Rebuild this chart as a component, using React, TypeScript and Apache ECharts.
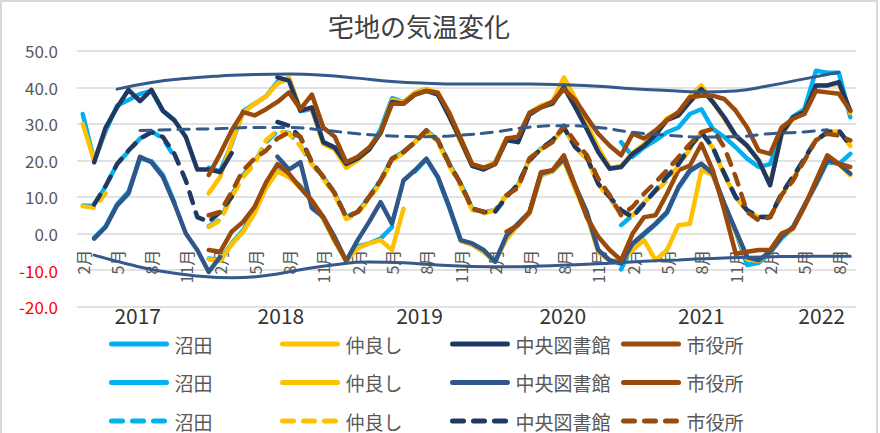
import { useEffect, useRef } from "react";
import * as echarts from "echarts";

const n = null;
const FONT = "'Noto Sans CJK JP', 'Noto Sans', sans-serif";

// Categories: monthly, Feb 2017 .. Sep 2022
const START_YEAR = 2017;
const START_MONTH = 2;
const MONTH_COUNT = 68;
const CATEGORIES: string[] = [];
for (let k = 0; k < MONTH_COUNT; k++) {
  const m = START_MONTH - 1 + k;
  CATEGORIES.push(`${START_YEAR + Math.floor(m / 12)}-${(m % 12) + 1}`);
}

const YEAR_LABELS = ["2017", "2018", "2019", "2020", "2021", "2022"];
const YEAR_LABEL_POS = [4.8, 17.3, 29.4, 41.9, 54.0, 64.5];

const LOCATIONS = ["沼田", "仲良し", "中央図書館", "市役所"];

// ---- maximum (rows: 2017 Feb-Dec, 2018, 2019, 2020, 2021, 2022 Jan-Sep)
const NUMATA_MAX = [
  32.7, 20, 28, 35, 36.5, 38.2, 39, 33.5, 31, n, n,
  18, 17, 24.5, 33.5, 35.5, 37.5, 41.5, 42.5, 33.5, 34, 25, 23.5,
  18.5, 20.5, 23, 28.5, 37, 36, 38.5, 39.5, 38.3, 32, 25.5, 18.5,
  17.8, 19.5, 26, 25, 33, 34.8, 36, 41.5, 36, 29.5, n, n,
  25, 21, 23.6, 25.5, 27.7, 29, 32.7, 34, 28.6, 26.4, 23.6, 20.5,
  18.2, 19, 27.5, 32, 34, 44.5, 44, 44, 31.8,
];
const NAKAYOSHI_MAX = [
  30, 20, 28.5, n, n, n, n, n, n, n, n,
  11, 15.5, 25, 33, 35.5, 37.5, 41, 42.5, 34, 34, 24.5, 23,
  18, 20, 23, 27.5, 36.5, 36, 38.5, 39.5, 38.5, 32, 25, 18.5,
  18, 19.5, 26, 25.5, 33, 35, 36, 42.7, 37, 30, 23.5, 18,
  18.5, 22, 24.5, 27.5, 31.5, 33, 37.5, 40.5, 36, 31.5, 26.5, 24,
  20, 13.5, 27, 31.5, 33, 40.5, 40.5, 41, 33,
];
const CHUO_MAX = [
  n, 19.5, 29, 34.5, 39.3, 36.2, 39.3, 33.6, 31, 26.4, 17.5,
  17.5, 16.8, 22, n, n, n, 42.7, 41.8, 33.6, 34.5, 25, 23.5,
  19, 20.5, 23, 27.5, 36, 35.5, 38, 39, 38, 32, 25.5, 18.5,
  17.5, 19, 25.5, 25, 32.5, 34.5, 35.5, 40, 34.5, 28.6, 22.3, 17.7,
  18.2, 21.8, 24, 27, 31, 32.3, 36, 39.5, 36, 31.8, 26.8, 24,
  20, 13.2, 27.3, 31.8, 33.2, 40.5, 40.5, 41.4, 33.6,
];
const SHIYAKUSHO_MAX = [
  n, n, n, n, n, n, n, n, n, n, n,
  16, 21.8, 28.2, 33.2, 32.3, 34, 36, 38.6, 34, 38, 29, 26.5,
  19.5, 21, 23.5, 27.5, 35.5, 35.5, 38, 39, 38.5, 33, 26, 19,
  18, 19, 26, 26.5, 33, 34.5, 36, 39.5, 36.5, 31.8, 27.3, 24,
  21.4, 27.3, 26, 28.2, 31, 33.2, 37.3, 37.7, 37.7, 36.8, 33.6, 29,
  22.7, 21.8, 29, 31.4, 32.7, 39, 38.6, 38.2, 33.6,
];

// ---- minimum
const NUMATA_MIN = [
  n, -1.2, 2, 8, 11.5, 20.5, 19.8, 16, 8.5, n, n,
  -6.8, -7.3, -2.7, 0.9, 6, 12.7, 17.3, 15.5, 13, 9, 4, -2,
  -7.5, -3.5, -2.7, -1.4, 1.8, n, 17, 20.3, 15.3, 7, -2, -3,
  -5, -7.7, -1, 2.5, 5.5, 16, 17, 20.3, 12.5, 5.5, n, n,
  -9.8, -3, -0.3, 2.5, 5.6, 12.5, 17, 19, 16, 8, 0.5, -8.6,
  -8, -5.3, -1.3, 1.5, 7.5, 13.3, 19.7, 19, 21.8,
];
const NAKAYOSHI_MIN = [
  n, n, n, n, n, n, n, n, n, n, n,
  -7, -7.5, -3, 0.5, 5.5, 12.5, 17, 15.5, 12.5, 9, 4, -2,
  -7.5, -4, -2.7, -1.8, -4.5, 6.8, n, n, n, n, -2, -3,
  -5, -7.5, -1.5, 2.3, 5.5, 16, 17, 20, 12, 5, -5, -7.5,
  -7.3, -4.5, -1.8, -7.3, -4.5, 2.3, 2.7, 17.3, 16, 8, 0.5, -7,
  -7.5, -5, -1, 1.5, 7.5, 13.5, 20, 19, 16,
];
const CHUO_MIN = [
  n, -1.4, 1.8, 7.7, 11, 21, 19.5, 15.5, 8.2, 0, -4.5,
  -10.5, -6.4, n, n, n, n, 21, 17.5, 19.5, 7, 4.5, -1,
  -7.5, -1.8, 3.2, 8.6, 2.7, 14.5, 17.3, 20.5, 15.5, 7.3, -1.8, -2.7,
  -4.5, -7.7, -0.5, 2.7, 5.9, 16.4, 17.3, 20.5, 13, 5.9, -4.5, -7.3,
  -8.2, -2.7, 0, 2.7, 5.9, 12.7, 17.3, 19.1, 16.4, 8.2, 0.9, -6.4,
  -7.3, -5, -0.9, 1.8, 7.7, 13.6, 20, 19.1, 16.4,
];
const SHIYAKUSHO_MIN = [
  n, n, n, n, n, n, n, n, n, n, n,
  -4.5, -5, 0.5, 3.2, 7.3, 14, 19, 16.4, 12.5, 9, 4.5, -1.8,
  -7.3, n, n, n, n, n, n, n, n, n, n, n,
  n, n, 0.5, 2.3, 5.9, 16.8, 17.3, 21.4, 13, 4.5, -0.9, -4.5,
  -7.3, 0, 4.5, 5, 10.9, 17.3, 18.6, 24.5, 17.3, 6.4, -5.5, -5,
  -4.5, -4.5, 0, 1.4, 7.3, 14.5, 21.4, 19.1, 18.2,
];

// ---- mean
const NUMATA_MEAN = [
  7.7, 7.5, 13, 19, 22.5, 26, 28, 26, 21, n, n,
  2, 3.8, 10.5, 16, 19.5, 25, 28, 27.5, 24, 19, 15.5, 10.9,
  4.5, 5.9, 10, 14.5, 20.5, 22.3, 25, 28.2, 25.5, 19, 13.6, 6.8,
  5.9, 6.4, 10.5, 13.2, 20.5, 23.2, 25, 29, 23.6, 20.5, n, n,
  2.3, 5, 8.5, 11.8, 15.5, 19, 23.6, 27.7, 23.6, 16.4, 10, 6.4,
  4.5, 4.5, 10.9, 15.5, 20.5, 25.5, 27.7, 28.2, 24.1,
];
const NAKAYOSHI_MEAN = [
  7.5, 7, 11, n, n, n, n, n, n, n, n,
  1.8, 3.6, 10, 15.5, 19, 25.5, 28.2, 27.3, 24, 19, 15, 10.5,
  4, 5.5, 9.5, 14, 20, 22, 25, 28, 25, 18.5, 13, 6.5,
  5.5, 6.4, 10.5, 13, 20.5, 23, 25, 29, 23.5, 20.5, 13.5, 9.5,
  5.5, 5, 8.5, 11.5, 14.5, 18.5, 23, 27.5, 23.5, 16, 10, 6,
  4.5, 4.5, 10.5, 15, 20, 25.5, 27.5, 28, 24,
];
const CHUO_MEAN = [
  n, 8, 13, 19, 22.7, 26, 27.7, 26.4, 21.8, 14.5, 4.5,
  3.2, 5.9, 10, n, n, n, 30.5, 29.5, 26.3, 19.5, 15.5, 11,
  4.5, 5.9, 10, 14.5, 20.5, 22.3, 25, 28.2, 25.5, 19, 13.6, 6.8,
  5.9, 6, 10, 13.5, 20, 23.2, 25.5, 29, 23.6, 20.9, 13.6, 10,
  6.4, 4.5, 8.2, 11.8, 15.5, 19, 23.6, 27.7, 23.6, 16.4, 10, 6.4,
  4.5, 4.5, 10.9, 15.5, 20.5, 25.5, 27.7, 28.2, 24.1,
];
const SHIYAKUSHO_MEAN = [
  n, n, n, n, n, n, n, n, n, n, n,
  5, 5.9, 11.4, 17.3, 20.5, 22.7, 26, 27.7, 26.5, 19.5, 15.5, 11,
  4.5, 5.9, 10, 14.5, 20.5, 22.3, 25, 28.2, 25.5, 19, 13.6, 6.8,
  6, n, 10.5, 12.5, 20.5, 23, 25, 29.5, 25, 21.5, 15, 10.5,
  5, 7.3, 10.9, 14, 17.3, 20.9, 24.5, 27.7, 28.6, 23.6, 15.5, 5.9,
  3.6, 4.5, 10.5, 14.5, 20, 25.5, 27.3, 26.8, 25.5,
];

// ---- trend curves, [month index, value]
const TREND_MAX = [
  [3, 39.5], [6, 41.3], [9, 42.4], [12, 43.1], [15, 43.5], [18, 43.6], [21, 43.3], [24, 42.5],
  [27, 41.6], [30, 41.1], [33, 40.9], [36, 40.9], [39, 40.9], [42, 40.7], [45, 40.3], [48, 39.6],
  [51, 39.1], [54, 38.7], [57, 39.0], [60, 40.5], [63, 42.3], [66, 44.1],
];
const TREND_MEAN = [
  [5, 28.2], [9, 28.5], [12, 28.7], [15, 29.0], [18, 29.0], [21, 28.3], [24, 27.3], [27, 26.7],
  [30, 26.5], [33, 26.9], [36, 27.8], [39, 29.1], [42, 29.5], [45, 29.0], [48, 27.7], [51, 26.9],
  [54, 26.4], [57, 26.5], [60, 27.3], [63, 27.8], [65, 28.4],
];
const TREND_MIN = [
  [1, -5.9], [4, -8.4], [7, -10.4], [10, -11.6], [13, -12.1], [16, -11.5], [19, -9.9], [22, -8.5],
  [25, -7.8], [28, -8.0], [31, -8.6], [34, -9.0], [37, -9.1], [40, -8.9], [43, -8.5], [46, -8.1],
  [49, -7.6], [52, -7.2], [55, -6.8], [58, -6.5], [61, -6.3], [64, -6.2], [67, -6.2],
];

const MAX_DATA = [NUMATA_MAX, NAKAYOSHI_MAX, CHUO_MAX, SHIYAKUSHO_MAX];
const MIN_DATA = [NUMATA_MIN, NAKAYOSHI_MIN, CHUO_MIN, SHIYAKUSHO_MIN];
const MEAN_DATA = [NUMATA_MEAN, NAKAYOSHI_MEAN, CHUO_MEAN, SHIYAKUSHO_MEAN];

const MAX_COLORS = ["#00B0F0", "#FFC000", "#1F3864", "#9A4A0A"];
const MIN_COLORS = ["#00B0F0", "#FFC000", "#31568A", "#9A4A0A"];
const MEAN_COLORS = ["#00B0F0", "#FFC000", "#1F3864", "#9A4A0A"];
const TREND_COLOR = "#34598A";
const LEGEND_LEFT = [109, 280, 450, 621];

function lineSeries(name: string, data: any[], color: string, dashed: boolean) {
  return {
    type: "line",
    name,
    data,
    xAxisIndex: 0,
    yAxisIndex: 0,
    symbol: "none",
    showSymbol: false,
    connectNulls: false,
    silent: true,
    emphasis: { disabled: true },
    itemStyle: { color },
    lineStyle: {
      color,
      width: 4.5,
      cap: "round",
      join: "round",
      type: dashed ? [11, 10] : "solid",
    },
    z: 2,
  };
}

function trendSeries(name: string, data: number[][], dashed: boolean) {
  return {
    type: "line",
    name,
    data,
    xAxisIndex: 0,
    yAxisIndex: 0,
    symbol: "none",
    showSymbol: false,
    smooth: 0.5,
    silent: true,
    emphasis: { disabled: true },
    itemStyle: { color: TREND_COLOR },
    lineStyle: {
      color: TREND_COLOR,
      width: 3,
      cap: "round",
      type: dashed ? [11, 8] : "solid",
    },
    z: 4,
  };
}

export default function App() {
  const ref = useRef<HTMLDivElement>(null);

  useEffect(() => {
    const chart = echarts.init(ref.current as HTMLDivElement, null, { renderer: "svg" });

    const series: any[] = [];
    LOCATIONS.forEach((loc, c) => series.push(lineSeries(`${loc}#max`, MAX_DATA[c], MAX_COLORS[c], false)));
    LOCATIONS.forEach((loc, c) => series.push(lineSeries(`${loc}#min`, MIN_DATA[c], MIN_COLORS[c], false)));
    LOCATIONS.forEach((loc, c) => series.push(lineSeries(`${loc}#mean`, MEAN_DATA[c], MEAN_COLORS[c], true)));
    series.push(trendSeries("trend-max", TREND_MAX, false));
    series.push(trendSeries("trend-mean", TREND_MEAN, true));
    series.push(trendSeries("trend-min", TREND_MIN, false));

    const legends = LOCATIONS.map((loc, c) => ({
      orient: "vertical",
      left: LEGEND_LEFT[c],
      top: 334,
      itemWidth: 55,
      itemHeight: 20,
      itemGap: 18.5,
      padding: 0,
      selectedMode: false,
      data: [`${loc}#max`, `${loc}#min`, `${loc}#mean`],
      formatter: (name: string) => name.split("#")[0],
      itemStyle: { opacity: 0 },
      lineStyle: { width: 5, cap: "round" },
      textStyle: {
        color: "#595959",
        fontSize: 19,
        fontFamily: FONT,
        lineHeight: 20,
        padding: [0, 0, 0, 3],
      },
    }));

    const option: any = {
      animation: false,
      backgroundColor: "#FFFFFF",
      textStyle: { fontFamily: FONT },
      title: {
        text: "宅地の気温変化",
        left: 328,
        top: 12,
        padding: 0,
        textStyle: { fontSize: 26, fontWeight: "normal", color: "#404040", fontFamily: FONT },
      },
      legend: legends,
      grid: {
        left: 77,
        right: 24,
        top: 50.7,
        bottom: 126.3,
        containLabel: false,
        outerBoundsMode: "none",
      },
      xAxis: [
        {
          type: "category",
          data: CATEGORIES,
          boundaryGap: true,
          position: "bottom",
          offset: -57,
          axisLine: { show: false, onZero: false },
          axisTick: { show: false },
          splitLine: { show: false },
          axisLabel: {
            interval: 2,
            rotate: 90,
            margin: 0,
            color: "#595959",
            fontSize: 16,
            fontFamily: FONT,
            formatter: (v: string) => `${v.split("-")[1]}月`,
          },
        },
        {
          type: "value",
          min: -0.5,
          max: MONTH_COUNT - 0.5,
          position: "bottom",
          offset: 0,
          axisLine: { show: false, onZero: false },
          axisTick: { show: false },
          splitLine: { show: false },
          axisLabel: {
            customValues: YEAR_LABEL_POS,
            margin: -2,
            color: "#333333",
            fontSize: 21,
            fontFamily: FONT,
            formatter: (v: number) => {
              let k = 0;
              YEAR_LABEL_POS.forEach((p, j) => {
                if (Math.abs(p - v) < Math.abs(YEAR_LABEL_POS[k] - v)) k = j;
              });
              return YEAR_LABELS[k];
            },
          },
        },
      ],
      yAxis: {
        type: "value",
        min: -20,
        max: 50,
        interval: 10,
        axisLine: { show: false },
        axisTick: { show: false },
        splitLine: { show: true, lineStyle: { color: "#D9D9D9", width: 1.5 } },
        axisLabel: {
          margin: 19,
          formatter: (v: number) => (v < 0 ? `{neg|${v.toFixed(1)}}` : `{pos|${v.toFixed(1)}}`),
          rich: {
            neg: { color: "#FF0000", fontSize: 17, fontFamily: FONT },
            pos: { color: "#595959", fontSize: 17, fontFamily: FONT },
          },
        },
      },
      graphic: [
        {
          type: "rect",
          silent: true,
          z: -10,
          shape: { x: 1, y: 1, width: 876, height: 440 },
          style: { fill: "none", stroke: "#D9D9D9", lineWidth: 2 },
        },
      ],
      series,
    };

    chart.setOption(option);
    return () => chart.dispose();
  }, []);

  return (
    <div
      ref={ref}
      style={{ position: "absolute", left: 0, top: 0, width: 880, height: 433 }}
    />
  );
}
